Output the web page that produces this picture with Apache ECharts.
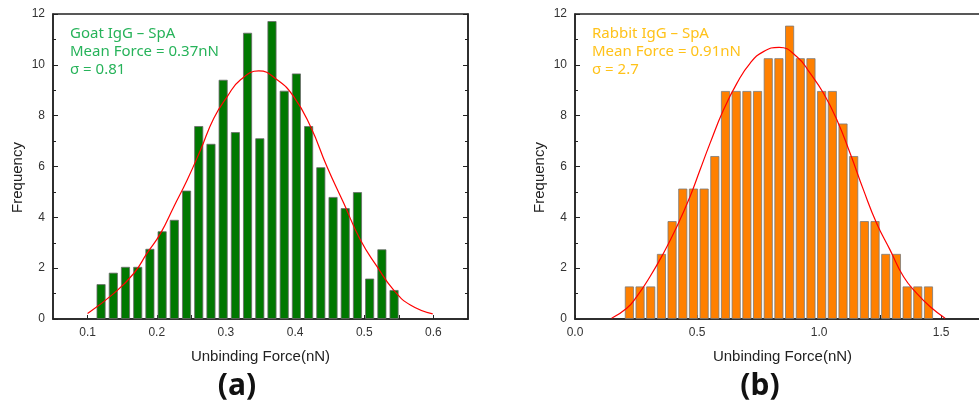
<!DOCTYPE html>
<html>
<head>
<meta charset="utf-8">
<script src="https://cdn.jsdelivr.net/npm/echarts@6.0.0/dist/echarts.min.js"></script>
<style>
  html, body { margin: 0; padding: 0; background: #fff; }
  #chart { width: 979px; height: 409px; }
</style>
</head>
<body>
<div id="chart"></div>
<script>
// (a) goat IgG - SpA histogram
const goatBinCenters = [0.1195, 0.1372, 0.1548, 0.1725, 0.1901, 0.2078, 0.2254, 0.2431, 0.2607, 0.2784,
  0.2960, 0.3137, 0.3313, 0.3490, 0.3666, 0.3843, 0.4019, 0.4196, 0.4372, 0.4549,
  0.4725, 0.4902, 0.5078, 0.5255, 0.5431]
const goatCounts = [1.37, 1.82, 2.05, 2.05, 2.76, 3.45, 3.9, 5.05, 7.59, 6.89,
  9.41, 7.35, 11.26, 7.11, 11.72, 8.98, 9.66, 7.59, 5.97, 4.8,
  4.36, 4.99, 1.59, 2.74, 1.14]
const goatFitX = [0.1, 0.138, 0.167, 0.186, 0.2055, 0.2247, 0.244, 0.2633, 0.2825, 0.3019, 0.3211, 0.3476,
  0.374, 0.398, 0.4223, 0.446, 0.4704, 0.4945, 0.5186, 0.5426, 0.5667, 0.599]
const goatFitY = [0.22, 1.01, 1.80, 2.59, 3.37, 4.42, 5.47, 6.65, 7.90, 8.75, 9.41, 9.76,
  9.41, 8.75, 7.57, 6.0, 4.55, 3.11, 2.06, 1.14, 0.55, 0.20]
const goatLabelTicks = [0.1, 0.2, 0.3, 0.4, 0.5, 0.6]
const goatMinorTicks = [0.1, 0.15, 0.2, 0.25, 0.3, 0.35, 0.4, 0.45, 0.5, 0.55, 0.6]
const goatNotes = ['Goat IgG \u2013 SpA', 'Mean Force = 0.37nN', '\u03c3 = 0.81']

// (b) rabbit IgG - SpA histogram
const rabbitBinCenters = [0.2227, 0.2665, 0.3102, 0.3540, 0.3977, 0.4415, 0.4853, 0.5290, 0.5728, 0.6165,
  0.6603, 0.7041, 0.7478, 0.7916, 0.8353, 0.8791, 0.9229, 0.9666, 1.0104, 1.0541,
  1.0979, 1.1417, 1.1854, 1.2292, 1.2729, 1.3167, 1.3605, 1.4042, 1.4480]
const rabbitCounts = [1.28, 1.28, 1.28, 2.56, 3.85, 5.13, 5.13, 5.13, 6.41, 8.97,
  8.97, 8.97, 8.97, 10.26, 10.26, 11.54, 10.26, 10.26, 8.97, 8.97,
  7.69, 6.41, 3.85, 3.85, 2.56, 2.56, 1.28, 1.28, 1.28]
const rabbitFitX = [0.15, 0.212, 0.253, 0.307, 0.362, 0.417, 0.471, 0.512, 0.553, 0.608, 0.663, 0.717, 0.772, 0.836,
  0.909, 0.963, 1.018, 1.073, 1.127, 1.182, 1.236, 1.291, 1.346, 1.40, 1.455, 1.516]
const rabbitFitY = [0.03, 0.42, 0.88, 1.66, 2.58, 3.63, 4.81, 5.86, 6.91, 8.22, 9.27, 10.06, 10.52, 10.69,
  10.32, 9.67, 8.88, 7.83, 6.52, 5.07, 3.76, 2.71, 1.66, 1.01, 0.48, 0.03]
const rabbitLabelTicks = [0.0, 0.5, 1.0, 1.5]
const rabbitMinorTicks = [0.0, 0.25, 0.5, 0.75, 1.0, 1.25, 1.5]
const rabbitNotes = ['Rabbit IgG \u2013 SpA', 'Mean Force = 0.91nN', '\u03c3 = 2.7']

const panelNames = ['(a)', '(b)']
const axisFont = 'Liberation Sans'

function pairs(xs, ys) {
  return xs.map((x, i) => [x, ys[i]])
}

function xAxisFor(gridIndex, min, max, labels, ticks) {
  return {
    gridIndex: gridIndex,
    type: 'value',
    min: min,
    max: max,
    name: 'Unbinding Force(nN)',
    nameLocation: 'middle',
    nameGap: 30,
    nameTextStyle: { fontFamily: axisFont, fontSize: 15, color: '#222' },
    axisLine: { onZero: false, lineStyle: { color: '#222', width: 1.5 } },
    axisTick: { inside: true, length: 4, customValues: ticks, lineStyle: { color: '#222' } },
    axisLabel: {
      customValues: labels,
      formatter: v => v.toFixed(1),
      fontFamily: axisFont, fontSize: 12, color: '#333', margin: 8
    },
    splitLine: { show: false }
  }
}

function yAxisFor(gridIndex, position, showName) {
  return {
    gridIndex: gridIndex,
    type: 'value',
    position: position,
    min: 0,
    max: 12,
    interval: 2,
    name: showName ? 'Frequency' : '',
    nameLocation: 'middle',
    nameGap: 28,
    nameTextStyle: { fontFamily: axisFont, fontSize: 15, color: '#222', padding: [0, 0, 0, -22] },
    axisLine: { show: true, lineStyle: { color: '#222', width: 1.5 } },
    axisTick: { show: true, inside: true, length: 5, lineStyle: { color: '#222' } },
    minorTick: { show: true, splitNumber: 2, length: 3, lineStyle: { color: '#222' } },
    axisLabel: { show: showName, fontFamily: axisFont, fontSize: 12, color: '#333', margin: 8 },
    splitLine: { show: false }
  }
}

function noteText(left, lines, color) {
  return lines.map((t, i) => ({
    type: 'text',
    left: left,
    top: 26 + i * 18,
    style: { text: t, fill: color, font: '15px "Noto Sans"' }
  }))
}

const chart = echarts.init(document.getElementById('chart'))
const option = {
  animation: false,
  backgroundColor: '#fff',
  grid: [
    { left: 53, top: 14, width: 415, height: 305, outerBoundsMode: 'none', show: true, borderColor: '#222', borderWidth: 1.5, backgroundColor: 'transparent' },
    { left: 575, top: 14, width: 415, height: 305, outerBoundsMode: 'none', show: true, borderColor: '#222', borderWidth: 1.5, backgroundColor: 'transparent' }
  ],
  xAxis: [
    xAxisFor(0, 0.05, 0.65, goatLabelTicks, goatMinorTicks),
    xAxisFor(1, 0, 1.7, rabbitLabelTicks, rabbitMinorTicks)
  ],
  yAxis: [
    yAxisFor(0, 'left', true),
    yAxisFor(1, 'left', true),
    yAxisFor(0, 'right', false)
  ],
  series: [
    {
      type: 'bar',
      xAxisIndex: 0,
      yAxisIndex: 0,
      barWidth: 9,
      data: pairs(goatBinCenters, goatCounts),
      itemStyle: { color: '#007800', borderColor: '#6a6a6a', borderWidth: 0.8 }
    },
    {
      type: 'line',
      xAxisIndex: 0,
      yAxisIndex: 0,
      smooth: true,
      showSymbol: false,
      z: 5,
      data: pairs(goatFitX, goatFitY),
      lineStyle: { color: '#ff0000', width: 1.2 }
    },
    {
      type: 'bar',
      xAxisIndex: 1,
      yAxisIndex: 1,
      barWidth: 9,
      data: pairs(rabbitBinCenters, rabbitCounts),
      itemStyle: { color: '#ff8000', borderColor: '#7a7a7a', borderWidth: 0.8 }
    },
    {
      type: 'line',
      xAxisIndex: 1,
      yAxisIndex: 1,
      smooth: true,
      showSymbol: false,
      z: 5,
      data: pairs(rabbitFitX, rabbitFitY),
      lineStyle: { color: '#ff0000', width: 1.2 }
    }
  ],
  graphic: [
    ...noteText(70, goatNotes, '#27b35a'),
    ...noteText(592, rabbitNotes, '#ffc21a'),
    {
      type: 'text', x: 237, y: 386,
      style: { text: panelNames[0], fill: '#111', font: 'bold 30px "Noto Sans"', align: 'center', verticalAlign: 'middle' }
    },
    {
      type: 'text', x: 760, y: 386,
      style: { text: panelNames[1], fill: '#111', font: 'bold 30px "Noto Sans"', align: 'center', verticalAlign: 'middle' }
    }
  ]
}
option && chart.setOption(option)
</script>
</body>
</html>
